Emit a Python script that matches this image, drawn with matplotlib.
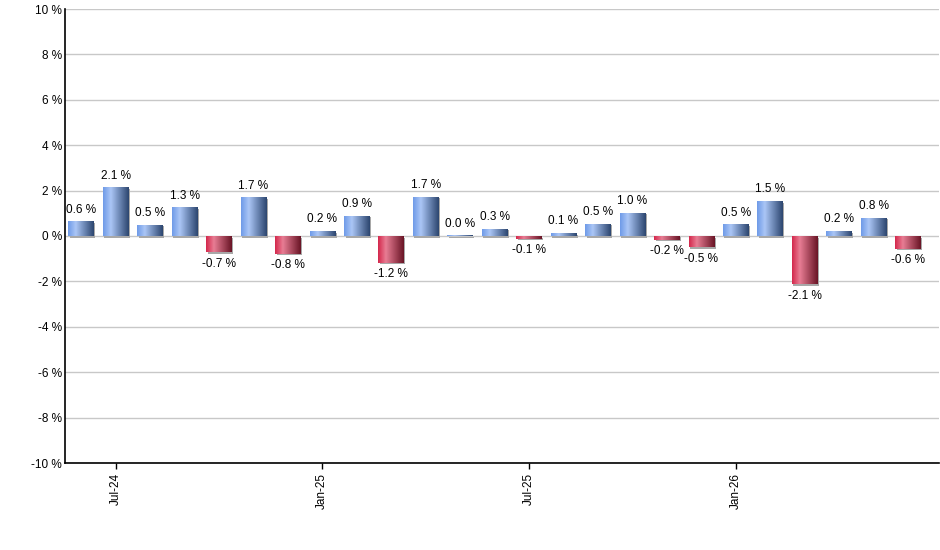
import matplotlib
matplotlib.use('Agg')
import matplotlib.pyplot as plt
import matplotlib.transforms as mtransforms
from matplotlib.colors import LinearSegmentedColormap
from matplotlib.patches import Rectangle
import numpy as np

# Monthly change, Jun-24 .. Jun-26
months = ["Jun-24", "Jul-24", "Aug-24", "Sep-24", "Oct-24", "Nov-24", "Dec-24",
          "Jan-25", "Feb-25", "Mar-25", "Apr-25", "May-25", "Jun-25", "Jul-25",
          "Aug-25", "Sep-25", "Oct-25", "Nov-25", "Dec-25", "Jan-26", "Feb-26",
          "Mar-26", "Apr-26", "May-26", "Jun-26"]
values = [0.64, 2.14, 0.50, 1.27, -0.72, 1.70, -0.79, 0.22, 0.90, -1.17, 1.72, 0.04,
          0.31, -0.12, 0.13, 0.53, 1.02, -0.17, -0.50, 0.51, 1.54, -2.13, 0.22, 0.80, -0.56]
y_ticks = list(range(-10, 11, 2))

plt.rcParams['font.family'] = ['Liberation Sans', 'DejaVu Sans']

# horizontal gradients: light near left, dark on right
blue_cmap = LinearSegmentedColormap.from_list(
    'blue_bar', [(0, '#6f9be8'), (0.3, '#abc6f6'), (1.0, '#2c4670')])
red_cmap = LinearSegmentedColormap.from_list(
    'red_bar', [(0, '#d4284c'), (0.3, '#e87d94'), (1.0, '#6a1526')])
grad = np.linspace(0, 1, 64).reshape(1, -1)

fig = plt.figure(figsize=(9.4, 5.5), dpi=100)
ax = fig.add_axes([65 / 940, 87 / 550, 874 / 940, 454 / 550])

x_lo, x_hi = -0.47, 24.9
ax.set_yticks(y_ticks)
ax.set_yticklabels([f'{t} %' for t in y_ticks], fontsize=8.5)
ax.yaxis.grid(True, color='#c8c8c8', linewidth=1)
ax.set_axisbelow(True)

width = 0.74
shadow_tr = mtransforms.offset_copy(ax.transData, fig=fig, x=1.5, y=-1.5, units='dots')
for i, v in enumerate(values):
    x0 = i - width / 2
    y0, y1 = min(0, v), max(0, v)
    # soft shadow
    ax.add_patch(Rectangle((x0, y0), width, y1 - y0, facecolor='#a8a8a8',
                           edgecolor='none', transform=shadow_tr, zorder=2))
    rect = Rectangle((x0, y0), width, y1 - y0, facecolor='none', edgecolor='none', zorder=3)
    ax.add_patch(rect)
    cmap = blue_cmap if v >= 0 else red_cmap
    im = ax.imshow(grad, cmap=cmap, aspect='auto', extent=[x0, x0 + width, y0, y1],
                   interpolation='bilinear', zorder=3)
    im.set_clip_path(rect)

    if v >= 0:
        ax.annotate(f'{v:.1f} %', (i, v), xytext=(0, 4), textcoords='offset points',
                    ha='center', va='bottom', fontsize=8.5)
    else:
        ax.annotate(f'{v:.1f} %', (i, v), xytext=(0, -4), textcoords='offset points',
                    ha='center', va='top', fontsize=8.5)

ax.set_xlim(x_lo, x_hi)
ax.set_ylim(-10, 10)

tick_pos = [i for i, m in enumerate(months) if m.startswith('Jul') or m.startswith('Jan')]
ax.set_xticks(tick_pos)
ax.set_xticklabels([months[i] for i in tick_pos], rotation=90, fontsize=8.5)
ax.tick_params(axis='x', length=4, width=1, pad=3)
ax.tick_params(axis='y', length=0, pad=2)

for s in ['top', 'right']:
    ax.spines[s].set_visible(False)
for s in ['left', 'bottom']:
    ax.spines[s].set_linewidth(1.2)

fig.savefig('out.png', dpi=100)
